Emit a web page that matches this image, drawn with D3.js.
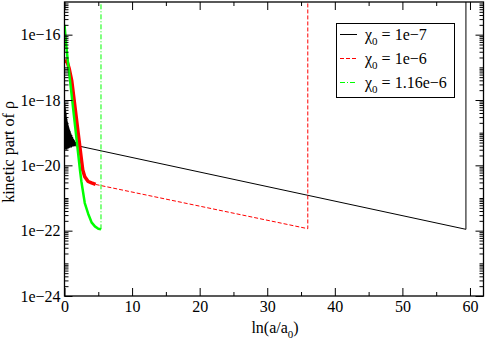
<!DOCTYPE html>
<html>
<head>
<meta charset="utf-8">
<script src="https://cdn.jsdelivr.net/npm/d3@7"></script>
<style>
body { margin: 0; background: #fff; }
svg text { font-family: "Liberation Serif", "Times New Roman", Tinos, "DejaVu Serif", serif; }
</style>
</head>
<body>
<div id="chart"></div>
<script>
// axis ticks
var xMajor = [0, 10, 20, 30, 40, 50, 60];
var xMinor = [5, 15, 25, 35, 45, 55];
var yMajor = [1e-24, 1e-22, 1e-20, 1e-18, 1e-16];
var yLabels = ["1e\u221224", "1e\u221222", "1e\u221220", "1e\u221218", "1e\u221216"];

// legend text (chi_0 values)
var seriesNames = ["1e\u22127", "1e\u22126", "1.16e\u22126"];
var seriesColors = ["#000000", "#ff0000", "#00ff00"];

// chi0 = 1e-7 : oscillating start, then straight tail
var blackNoiseX = [0, 0.03, 0.06, 0.09, 0.12, 0.15, 0.18, 0.21, 0.24, 0.27, 0.30, 0.33, 0.36, 0.39, 0.42, 0.45, 0.49, 0.53, 0.57, 0.61,
  0.65, 0.70, 0.75, 0.80, 0.85, 0.90, 0.96, 1.02, 1.08, 1.14, 1.20, 1.27, 1.34, 1.41, 1.48, 1.55, 1.63, 1.71, 1.80, 1.89, 1.98, 2.10];
var blackNoiseY = [1.0e-18, 3.3e-20, 7.5e-19, 3.0e-20, 5.6e-19, 3.4e-20, 4.5e-19, 3.1e-20, 3.7e-19, 3.3e-20, 3.0e-19, 3.0e-20, 2.6e-19, 3.4e-20, 2.2e-19, 3.2e-20, 1.9e-19, 3.5e-20, 1.65e-19, 3.3e-20,
  1.45e-19, 3.6e-20, 1.25e-19, 3.4e-20, 1.1e-19, 3.7e-20, 9.5e-20, 3.5e-20, 8.4e-20, 3.8e-20, 7.4e-20, 3.7e-20, 6.5e-20, 3.9e-20, 5.8e-20, 3.8e-20, 5.2e-20, 4.0e-20, 4.7e-20, 3.9e-20, 4.3e-20, 3.9e-20];
var blackTailX = [2.10, 59.4, 59.4];
var blackTailY = [3.9e-20, 1.1e-22, 1e-13];

// chi0 = 1e-6
var redNoiseX = [0, 0.35, 0.7, 1.06, 1.5, 2.0, 2.5, 2.7, 3.0, 3.5, 4.0, 4.6];
var redNoiseY = [1.5e-17, 1.6e-17, 9e-18, 4e-18, 7.4e-19, 1.05e-19, 1.5e-20, 7.2e-21, 4.5e-21, 3.2e-21, 2.9e-21, 2.6e-21];
var redTailX = [4.6, 36.0, 36.0];
var redTailY = [2.6e-21, 1.15e-22, 1e-13];

// chi0 = 1.16e-6
var greenNoiseX = [0, 0.25, 0.5, 1.0, 1.5, 2.0, 2.29, 2.5, 3.0, 3.5, 4.0, 4.5, 5.0, 5.4];
var greenNoiseY = [2e-16, 5e-17, 1.5e-17, 1.8e-18, 2.1e-19, 2.5e-20, 7.2e-21, 3.2e-21, 7e-22, 3.3e-22, 1.8e-22, 1.35e-22, 1.15e-22, 1.1e-22];
var greenTailX = [5.4, 5.4];
var greenTailY = [1.1e-22, 1e-13];

var W = 485, H = 341;
var margin = {top: 2, right: 1.5, bottom: 45, left: 64.5};
var width = W - margin.left - margin.right;
var height = H - margin.top - margin.bottom;
var serif = "'Liberation Serif', 'Times New Roman', Tinos, 'DejaVu Serif', serif";

var svg = d3.select("#chart").append("svg")
  .attr("width", W).attr("height", H);

var g = svg.append("g")
  .attr("transform", "translate(" + margin.left + "," + margin.top + ")");

var x = d3.scaleLinear().domain([0, 62]).range([0, width]);
var y = d3.scaleLog().domain([1e-24, 1e-15]).range([height, 0]);

// minor log ticks 2..9 x 10^n plus odd decades
var yMinor = [];
for (var e = -24; e < -15; e++) {
  for (var k = 1; k <= 9; k++) {
    if (k === 1 && (e % 2 === 0)) continue;
    yMinor.push(k * Math.pow(10, e));
  }
}

function zip(xs, ys) { return xs.map(function (d, i) { return [d, ys[i]]; }); }

g.append("clipPath").attr("id", "clip")
  .append("rect").attr("width", width).attr("height", height);

var line = d3.line()
  .x(function (d) { return x(d[0]); })
  .y(function (d) { return y(d[1]); });

var lines = g.append("g").attr("clip-path", "url(#clip)");

// tails first so noisy parts sit on top
lines.append("path").attr("d", line(zip(blackTailX, blackTailY)))
  .attr("fill", "none").attr("stroke", seriesColors[0]).attr("stroke-width", 1);
lines.append("path").attr("d", line(zip(redTailX, redTailY)))
  .attr("fill", "none").attr("stroke", seriesColors[1]).attr("stroke-width", 1)
  .attr("stroke-dasharray", "4,2");
lines.append("path").attr("d", line(zip(greenTailX, greenTailY)))
  .attr("fill", "none").attr("stroke", seriesColors[2]).attr("stroke-width", 1)
  .attr("stroke-dasharray", "5,2,1,2");

lines.append("path").attr("d", line(zip(blackNoiseX, blackNoiseY)))
  .attr("fill", "none").attr("stroke", seriesColors[0]).attr("stroke-width", 1.1);
lines.append("path").attr("d", line(zip(redNoiseX, redNoiseY)))
  .attr("fill", "none").attr("stroke", seriesColors[1]).attr("stroke-width", 3.5)
  .attr("stroke-linejoin", "round");
lines.append("path").attr("d", line(zip(greenNoiseX, greenNoiseY)))
  .attr("fill", "none").attr("stroke", seriesColors[2]).attr("stroke-width", 2.5)
  .attr("stroke-linejoin", "round");

// axes (ticks point inward)
function styleAxis(sel) {
  sel.attr("font-family", null).attr("font-size", null);
  sel.select(".domain").remove();
  sel.selectAll("line").attr("stroke", "#000");
  sel.selectAll("text").attr("fill", "#000").style("font-size", "16px")
    .style("font-family", serif);
}

g.append("g").attr("transform", "translate(0," + height + ")")
  .call(d3.axisBottom(x).tickValues(xMajor).tickSize(-8).tickPadding(5).tickFormat(d3.format("d")))
  .call(styleAxis);
g.append("g").attr("transform", "translate(0," + height + ")")
  .call(d3.axisBottom(x).tickValues(xMinor).tickSize(-4).tickFormat(""))
  .call(styleAxis);
g.append("g")
  .call(d3.axisTop(x).tickValues(xMajor).tickSize(-8).tickFormat(""))
  .call(styleAxis);
g.append("g")
  .call(d3.axisTop(x).tickValues(xMinor).tickSize(-4).tickFormat(""))
  .call(styleAxis);

g.append("g")
  .call(d3.axisLeft(y).tickValues(yMajor).tickSize(-8).tickPadding(4)
    .tickFormat(function (d, i) { return yLabels[i]; }))
  .call(styleAxis);
g.append("g")
  .call(d3.axisLeft(y).tickValues(yMinor).tickSize(-4).tickFormat(""))
  .call(styleAxis);
g.append("g").attr("transform", "translate(" + width + ",0)")
  .call(d3.axisRight(y).tickValues(yMajor).tickSize(-8).tickFormat(""))
  .call(styleAxis);
g.append("g").attr("transform", "translate(" + width + ",0)")
  .call(d3.axisRight(y).tickValues(yMinor).tickSize(-4).tickFormat(""))
  .call(styleAxis);

// frame
g.append("rect").attr("width", width).attr("height", height)
  .attr("fill", "none").attr("stroke", "#000").attr("stroke-width", 1.3);

// axis titles
var xt = svg.append("text")
  .attr("x", 275).attr("y", 333)
  .attr("text-anchor", "middle").style("font-size", "16px").style("font-family", serif);
xt.append("tspan").text("ln(a/a");
xt.append("tspan").attr("dy", 5).style("font-size", "11px").text("0");
xt.append("tspan").attr("dy", -5).text(")");

svg.append("text")
  .attr("transform", "translate(14,152) rotate(-90)")
  .attr("text-anchor", "middle").style("font-size", "16px").style("font-family", serif)
  .text("kinetic part of \u03c1");

// legend
var leg = svg.append("g");
leg.append("rect").attr("x", 336.5).attr("y", 23.5).attr("width", 118).attr("height", 74)
  .attr("fill", "#fff").attr("stroke", "#000").attr("stroke-width", 1);
var dashes = [null, "4,2", "5,2,1,2"];
seriesNames.forEach(function (name, i) {
  var ly = 34.5 + i * 24;
  leg.append("line").attr("x1", 340).attr("x2", 357).attr("y1", ly).attr("y2", ly)
    .attr("stroke", seriesColors[i]).attr("stroke-width", 1)
    .attr("stroke-dasharray", dashes[i]);
  var t = leg.append("text").attr("x", 365).attr("y", ly + 5.5)
    .style("font-size", "16px").style("font-family", serif);
  t.append("tspan").text("\u03c7");
  t.append("tspan").attr("dy", 5).style("font-size", "11px").text("0");
  t.append("tspan").attr("dy", -5).text(" = " + name);
});
</script>
</body>
</html>
